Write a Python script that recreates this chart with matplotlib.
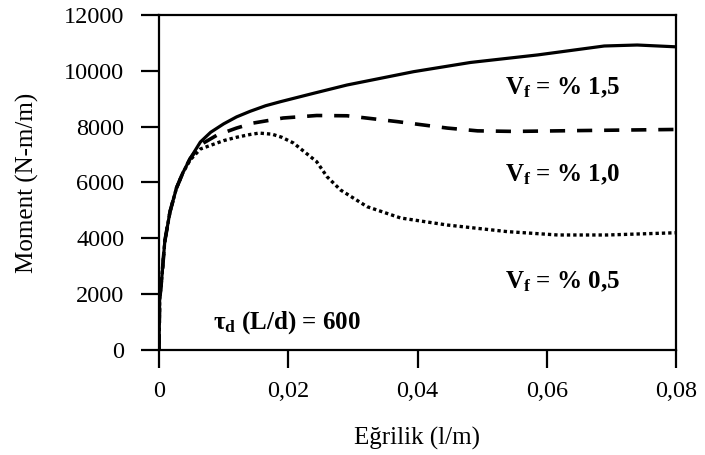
import matplotlib
matplotlib.use("Agg")
import matplotlib.pyplot as plt

plt.rcParams['font.family'] = ['Liberation Serif', 'DejaVu Serif']
plt.rcParams['mathtext.fontset'] = 'custom'
plt.rcParams['mathtext.rm'] = 'Liberation Serif'
plt.rcParams['mathtext.it'] = 'Liberation Serif:italic'
plt.rcParams['mathtext.bf'] = 'Liberation Serif:bold'

# Vf = 1.5 %
x15 = [0, 0.0001, 0.0004, 0.0009, 0.0017, 0.0027, 0.0037, 0.0048, 0.0064, 0.008,
       0.010, 0.012, 0.0141, 0.0165, 0.0188, 0.024, 0.0291, 0.0394, 0.0482, 0.0586,
       0.0689, 0.074, 0.080]
y15 = [0, 1800, 2500, 3900, 4950, 5800, 6350, 6850, 7450, 7800,
       8100, 8350, 8550, 8750, 8895, 9200, 9493, 9970, 10300, 10570,
       10890, 10925, 10860]

# Vf = 1.0 %
x10 = [0, 0.0001, 0.0004, 0.0009, 0.0017, 0.0027, 0.0037, 0.0048, 0.0064, 0.009,
       0.012, 0.0146, 0.0192, 0.0244, 0.0291, 0.0369, 0.0446, 0.0493, 0.055, 0.065,
       0.080]
y10 = [0, 1800, 2500, 3900, 4950, 5800, 6350, 6850, 7350, 7700,
       7950, 8130, 8310, 8400, 8390, 8180, 7950, 7850, 7830, 7860,
       7900]

# Vf = 0.5 %
x05 = [0, 0.0001, 0.0004, 0.0009, 0.0017, 0.0027, 0.0037, 0.0048, 0.0064, 0.010,
       0.012, 0.0141, 0.0155, 0.0175, 0.019, 0.0208, 0.0244, 0.026, 0.0281, 0.0322,
       0.0374, 0.0446, 0.0539, 0.0617, 0.0694, 0.080]
y05 = [0, 1800, 2500, 3900, 4950, 5800, 6350, 6800, 7200, 7500,
       7620, 7720, 7770, 7730, 7620, 7415, 6746, 6208, 5731, 5134,
       4728, 4477, 4240, 4120, 4120, 4200]

xticks = [0, 0.02, 0.04, 0.06, 0.08]
xticklabels = ['0', '0,02', '0,04', '0,06', '0,08']
yticks = [0, 2000, 4000, 6000, 8000, 10000, 12000]

fig = plt.figure(figsize=(7.05, 4.55), dpi=100)
ax = fig.add_axes([159/705, 105/455, 517/705, 335/455])

ax.plot(x15, y15, color='black', lw=2.3, solid_joinstyle='round')
ax.plot(x10, y10, color='black', lw=2.6, linestyle=(0, (4.2, 3.3)))
ax.plot(x05, y05, color='black', lw=2.4, linestyle=(0, (1.0, 0.9)))

ax.set_xlim(0, 0.08)
ax.set_ylim(0, 12000)
ax.set_xticks(xticks)
ax.set_xticklabels(xticklabels)
ax.set_yticks(yticks)
ax.tick_params(direction='out', length=13, width=1.6, labelsize=17.5)
ax.tick_params(axis='x', pad=9)
ax.tick_params(axis='y', pad=12)
for s in ax.spines.values():
    s.set_linewidth(1.6)

ax.set_xlabel('Eğrilik (l/m)', fontsize=18, labelpad=18)
ax.set_ylabel('Moment (N-m/m)', fontsize=18, labelpad=18)

kw = dict(fontsize=18, fontweight='bold', ha='left', va='center')
ax.text(0.0536, 9385, r'$\mathbf{V_f}$ = % 1,5', **kw)
ax.text(0.0536, 6270, r'$\mathbf{V_f}$ = % 1,0', **kw)
ax.text(0.0536, 2435, r'$\mathbf{V_f}$ = % 0,5', **kw)
ax.text(0.0084, 1000, r'$\mathbf{\tau_d}$ (L/d) = 600', **kw)

fig.savefig('out.png', dpi=100)
